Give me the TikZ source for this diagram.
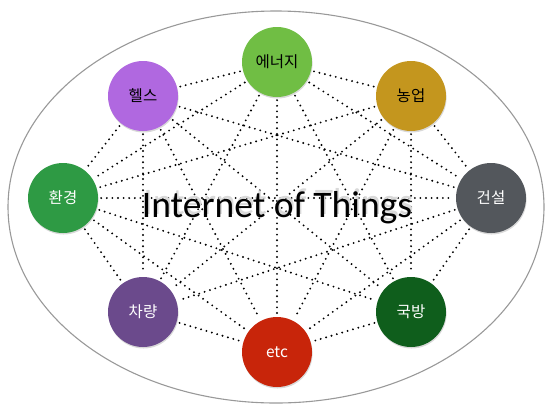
\documentclass[tikz,border=0pt]{standalone}
\usepackage{fontspec}
\setmainfont{Carlito}
\newfontfamily\kr{Noto Sans CJK KR}
\usepackage{tikz}
\usetikzlibrary{shadows}
\definecolor{energygreen}{RGB}{112,190,68}
\definecolor{healthpurple}{RGB}{176,104,224}
\definecolor{farmgold}{RGB}{196,150,30}
\definecolor{envgreen}{RGB}{46,154,68}
\definecolor{buildgray}{RGB}{83,87,92}
\definecolor{carpurple}{RGB}{107,74,140}
\definecolor{armygreen}{RGB}{15,94,28}
\definecolor{etcred}{RGB}{200,37,10}

\begin{document}
\begin{tikzpicture}[x=1pt,y=-1pt,
  thing/.style={circle,minimum size=70pt,inner sep=0pt,font=\kr\fontsize{15.5}{15.5}\selectfont,
    drop shadow={opacity=0.3,shadow xshift=0.6pt,shadow yshift=-1.5pt}},
  link/.style={line width=2.1pt,line cap=round,dash pattern=on 0pt off 5.6pt,shorten <=3pt,shorten >=3pt}]
\useasboundingbox (0,0) rectangle (545,405);
\draw[gray!80,line width=1.1pt] (276,207) ellipse [x radius=268pt,y radius=196pt];
\node[thing,fill=energygreen] (energy) at (277,62) {에너지};
\node[thing,fill=healthpurple] (health) at (143,96) {헬스};
\node[thing,fill=farmgold] (farm) at (411,96) {농업};
\node[thing,fill=envgreen,text=white] (env) at (63,198) {환경};
\node[thing,fill=buildgray,text=white] (build) at (491,198) {건설};
\node[thing,fill=carpurple,text=white] (car) at (143,312) {차량};
\node[thing,fill=armygreen,text=white] (army) at (411,312) {국방};
\node[thing,fill=etcred,text=white] (etc) at (277,352) {etc};
% everything is linked, except health-farm and car-army
\foreach \a/\b in {energy/health,energy/farm,energy/env,energy/build,energy/car,energy/army,energy/etc,
  health/env,health/build,health/car,health/army,health/etc,
  farm/env,farm/build,farm/car,farm/army,farm/etc,
  env/build,env/car,env/army,env/etc,
  build/car,build/army,build/etc,
  car/etc,army/etc}
  \draw[link] (\a) -- (\b);
\node[anchor=base,text=gray!30,font=\fontsize{37.5}{37.5}\selectfont] (iotshadow) at (278.5,214) {Internet of Things};
\node[anchor=base,font=\fontsize{37.5}{37.5}\selectfont] (iot) at (277,217) {Internet of Things};
\end{tikzpicture}
\end{document}
